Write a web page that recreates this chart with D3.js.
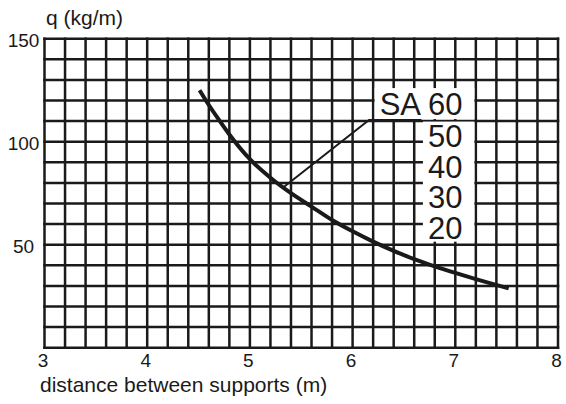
<!DOCTYPE html>
<html>
<head>
<meta charset="utf-8">
<script src="https://cdnjs.cloudflare.com/ajax/libs/d3/7.8.5/d3.min.js"></script>
<style>
  body { margin: 0; background: #fff; }
  text { font-family: "Liberation Sans", Arial, sans-serif; fill: #1a1a1a; }
</style>
</head>
<body>
<div id="chart"></div>
<script>
// curve: distance (m) -> q (kg/m)
var distance = [4.51, 4.6, 4.7, 4.8, 5.0, 5.2, 5.4, 5.6, 5.8, 6.0, 6.2, 6.4, 6.6, 6.8, 7.0, 7.2, 7.52];
var load     = [125, 117.8, 110.5, 103.5, 91.5, 82.5, 75, 68.5, 62, 56.5, 51.5, 47, 43, 39.5, 36.3, 33.3, 28.8];

var xTicks = [3, 4, 5, 6, 7, 8];
var yTicks = [50, 100, 150];
var sizes = ["50", "40", "30", "20"];
var series = "SA 60";
// leader line from curve to label (data coords)
var leaderX = [5.33, 6.16, 6.67];
var leaderY = [78, 110.5, 110.5];

var width = 566, height = 404;
var margin = {top: 38.7, right: 8, bottom: 56.3, left: 44.5};

var svg = d3.select("#chart").append("svg")
    .attr("width", width)
    .attr("height", height);

var x = d3.scaleLinear().domain([3, 8]).range([margin.left, width - margin.right]);
var y = d3.scaleLinear().domain([0, 150]).range([height - margin.bottom, margin.top]);

// grid: 0.2 m columns, 10 kg/m rows
var grid = svg.append("g").attr("stroke", "#1a1a1a").attr("stroke-width", 2.5);
grid.selectAll(".v")
    .data(d3.range(0, 26).map(function(i) { return 3 + i * 0.2; }))
    .enter().append("line")
    .attr("x1", function(d) { return x(d); })
    .attr("x2", function(d) { return x(d); })
    .attr("y1", y(0) + 1.25)
    .attr("y2", y(150) - 1.25);
grid.selectAll(".h")
    .data(d3.range(0, 16).map(function(i) { return i * 10; }))
    .enter().append("line")
    .attr("y1", function(d) { return y(d); })
    .attr("y2", function(d) { return y(d); })
    .attr("x1", x(3) - 1.25)
    .attr("x2", x(8) + 1.25);

// labels with white knock-out behind them
var lab = svg.append("g");
var labX = x(6.67) + 41;
var saText = lab.append("text")
    .attr("x", labX)
    .attr("y", y(110.5) - 5)
    .attr("text-anchor", "end")
    .style("font-size", "31px")
    .text(series);
var sizeText = lab.selectAll(".size")
    .data(sizes)
    .enter().append("text")
    .attr("class", "size")
    .attr("x", labX)
    .attr("y", function(d, i) { return y(110.5) + 27 + i * 30.7; })
    .attr("text-anchor", "end")
    .style("font-size", "31px")
    .text(function(d) { return d; });

var sb = saText.node().getBBox();
lab.insert("rect", "text")
    .attr("x", sb.x - 5)
    .attr("y", sb.y + 1)
    .attr("width", x(7.2) - 1.5 - (sb.x - 5))
    .attr("height", y(110.5) - sb.y - 2)
    .attr("fill", "#fff");
var lastB = sizeText.nodes()[sizes.length - 1].getBBox();
lab.insert("rect", "text")
    .attr("x", x(6.67) + 1.5)
    .attr("y", y(110.5) + 1.5)
    .attr("width", x(7.2) - x(6.67) - 3)
    .attr("height", lastB.y + lastB.height - y(110.5) - 6)
    .attr("fill", "#fff");

// leader
svg.append("path")
    .datum(leaderX.map(function(d, i) { return [d, leaderY[i]]; }))
    .attr("fill", "none")
    .attr("stroke", "#1a1a1a")
    .attr("stroke-width", 2)
    .attr("d", d3.line().x(function(d) { return x(d[0]); }).y(function(d) { return y(d[1]); }));

// curve
var line = d3.line()
    .x(function(d) { return x(d[0]); })
    .y(function(d) { return y(d[1]); })
    .curve(d3.curveMonotoneX);
svg.append("path")
    .datum(distance.map(function(d, i) { return [d, load[i]]; }))
    .attr("fill", "none")
    .attr("stroke", "#1a1a1a")
    .attr("stroke-width", 4)
    .attr("d", line);

// axes (labels only)
var xAxis = svg.append("g")
    .attr("transform", "translate(0," + y(0) + ")")
    .call(d3.axisBottom(x).tickValues(xTicks).tickSize(0).tickPadding(6).tickFormat(d3.format("d")));
xAxis.select(".domain").remove();
xAxis.selectAll("text").style("font-size", "19px").attr("dx", -2);

var yAxis = svg.append("g")
    .attr("transform", "translate(" + margin.left + ",0)")
    .call(d3.axisLeft(y).tickValues(yTicks).tickSize(0).tickFormat(d3.format("d")));
yAxis.select(".domain").remove();
yAxis.selectAll("text")
    .style("font-size", "19px")
    .attr("text-anchor", "middle")
    .attr("x", -21)
    .attr("dy", "0.4em");

svg.append("text")
    .attr("x", 46)
    .attr("y", 25)
    .style("font-size", "21px")
    .text("q (kg/m)");

svg.append("text")
    .attr("x", 40)
    .attr("y", 392)
    .style("font-size", "21px")
    .text("distance between supports (m)");
</script>
</body>
</html>
